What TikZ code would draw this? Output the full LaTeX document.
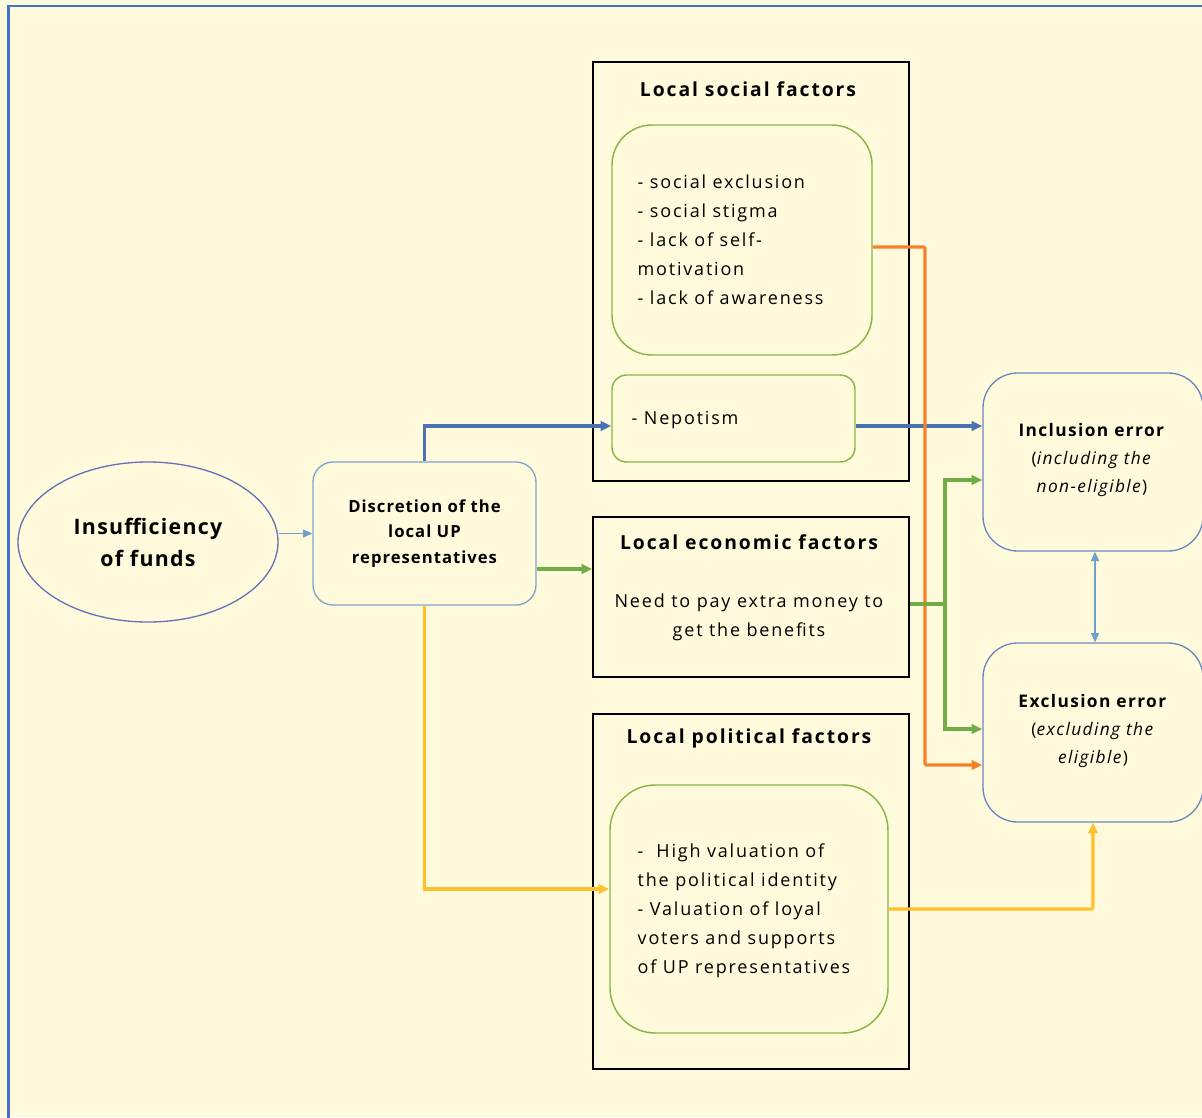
\documentclass[tikz,border=0pt]{standalone}
\usepackage{fontspec}
\setmainfont{Open Sans}
\usetikzlibrary{arrows.meta,shapes.geometric}
\definecolor{bg}{HTML}{FFFADC}
\definecolor{frameblue}{HTML}{4472C4}
\definecolor{ellc}{HTML}{6673B8}
\definecolor{discc}{HTML}{7BA7CF}
\definecolor{lblue}{HTML}{6FA0CC}
\definecolor{dblue}{HTML}{4A72B2}
\definecolor{gline}{HTML}{70AD47}
\definecolor{gbox}{HTML}{86B848}
\definecolor{oline}{HTML}{F5822A}
\definecolor{yline}{HTML}{FFC02A}
\definecolor{errc}{HTML}{6A88BF}
\tikzset{
  x=0.75pt, y=-0.75pt,
  blackbox/.style={draw=black, line width=1.1pt, minimum width=237pt},
  greenbox/.style={draw=gbox, line width=1.1pt, rounded corners=#1},
  errbox/.style={draw=errc, line width=1pt, rounded corners=26pt, minimum width=165pt, align=center, font=\fontsize{13}{21}\selectfont\addfontfeature{LetterSpace=8}},
  title/.style={font=\bfseries\fontsize{14.5}{17}\selectfont\addfontfeature{LetterSpace=10}},
  body/.style={font=\fontsize{13.5}{21.8}\selectfont\addfontfeature{LetterSpace=10}},
  conn/.style={line width=2.3pt, -{Triangle[length=8pt,width=7pt]}},
}
\begin{document}
\begin{tikzpicture}
\useasboundingbox (0,0) rectangle (1202,1117);
\clip (0,0) rectangle (1202,1117);
\fill[bg] (0,0) rectangle (1202,1117);
\draw[frameblue, line width=1.8pt] (8.5,1130) -- (8.5,6) -- (1210,6);

% nodes
\node[ellipse, draw=ellc, line width=1pt, minimum width=195pt, minimum height=120pt, align=center,
  font=\bfseries\fontsize{16}{24}\selectfont\addfontfeature{LetterSpace=6}] (ell) at (148,542) {Insufficiency\\of funds};
\node[draw=discc, line width=1pt, rounded corners=15pt, minimum width=167.25pt, minimum height=107.25pt, align=center,
  font=\bfseries\fontsize{12.5}{19}\selectfont\addfontfeature{LetterSpace=6}] (disc) at (424.5,533.5) {Discretion of the\\local UP\\representatives};

\node[blackbox, minimum height=314.25pt] (soc) at (751,271.5) {};
\node[title] (soct) at (748,89) {Local social factors};
\node[greenbox=30pt, minimum width=195pt, minimum height=172.5pt] (socin) at (742,240) {};
\node[body, anchor=west, align=left] (soctx) at (633,240) {- social exclusion\\- social stigma\\- lack of self-\\motivation\\- lack of awareness};
\node[greenbox=11pt, minimum width=182.25pt, minimum height=65.25pt] (nep) at (733.5,418.5) {};
\node[body, anchor=west] (neptx) at (627,420) {- Nepotism};

\node[blackbox, minimum height=120pt] (eco) at (751,597) {};
\node[title] (ecot) at (749,542) {Local economic factors};
\node[body, align=center] (ecotx) at (749,617) {Need to pay extra money to\\get the benefits};

\node[blackbox, minimum height=266.25pt] (pol) at (751,891.5) {};
\node[title] (polt) at (749,738) {Local political factors};
\node[greenbox=34pt, minimum width=208.5pt, minimum height=186pt] (polin) at (749,909) {};
\node[body, anchor=west, align=left] (poltx) at (633,911) {-\ \ High valuation of\\the political identity\\- Valuation of loyal\\voters and supports\\of UP representatives};

\node[errbox, minimum height=133.5pt] (inc) at (1093,462) {};
\node[errbox, draw=none] (inctx) at (1092,460) {\textbf{Inclusion error}\\(\textit{including the}\\\textit{non-eligible})};
\node[errbox, minimum height=134.25pt] (exc) at (1093,732.5) {};
\node[errbox, draw=none] (exctx) at (1093,731) {\textbf{Exclusion error}\\(\textit{excluding the}\\\textit{eligible})};

% connectors
\draw[lblue, line width=1pt, -{Triangle[length=7pt,width=6pt]}] (ell.east |- disc.west) -- (disc.west);
\draw[dblue, conn] (disc.north) |- (nep.west |- 0,426);
\draw[dblue, conn] (nep.east |- 0,426) -- (inc.west |- 0,426);
\draw[gline, conn] (disc.east |- 0,569) -- (eco.west |- 0,569);
\draw[oline, conn, rounded corners=1pt] (socin.east |- 0,247) -| (925,765) -- (exc.west |- 0,765);
\draw[gline, line width=2.3pt] (eco.east |- 0,604) -- (945,604);
\draw[gline, conn] (945,604) |- (inc.west |- 0,480);
\draw[gline, conn] (945,604) |- (exc.west |- 0,729);
\draw[yline, conn] (disc.south) |- (polin.west |- 0,889);
\draw[yline, conn, rounded corners=1pt] (polin.east |- 0,909) -| (exc.south);
\draw[lblue, line width=1pt, {Triangle[length=7pt,width=6pt]}-{Triangle[length=7pt,width=6pt]}] (inc.south -| 1095,0) -- (exc.north -| 1095,0);
\end{tikzpicture}
\end{document}
